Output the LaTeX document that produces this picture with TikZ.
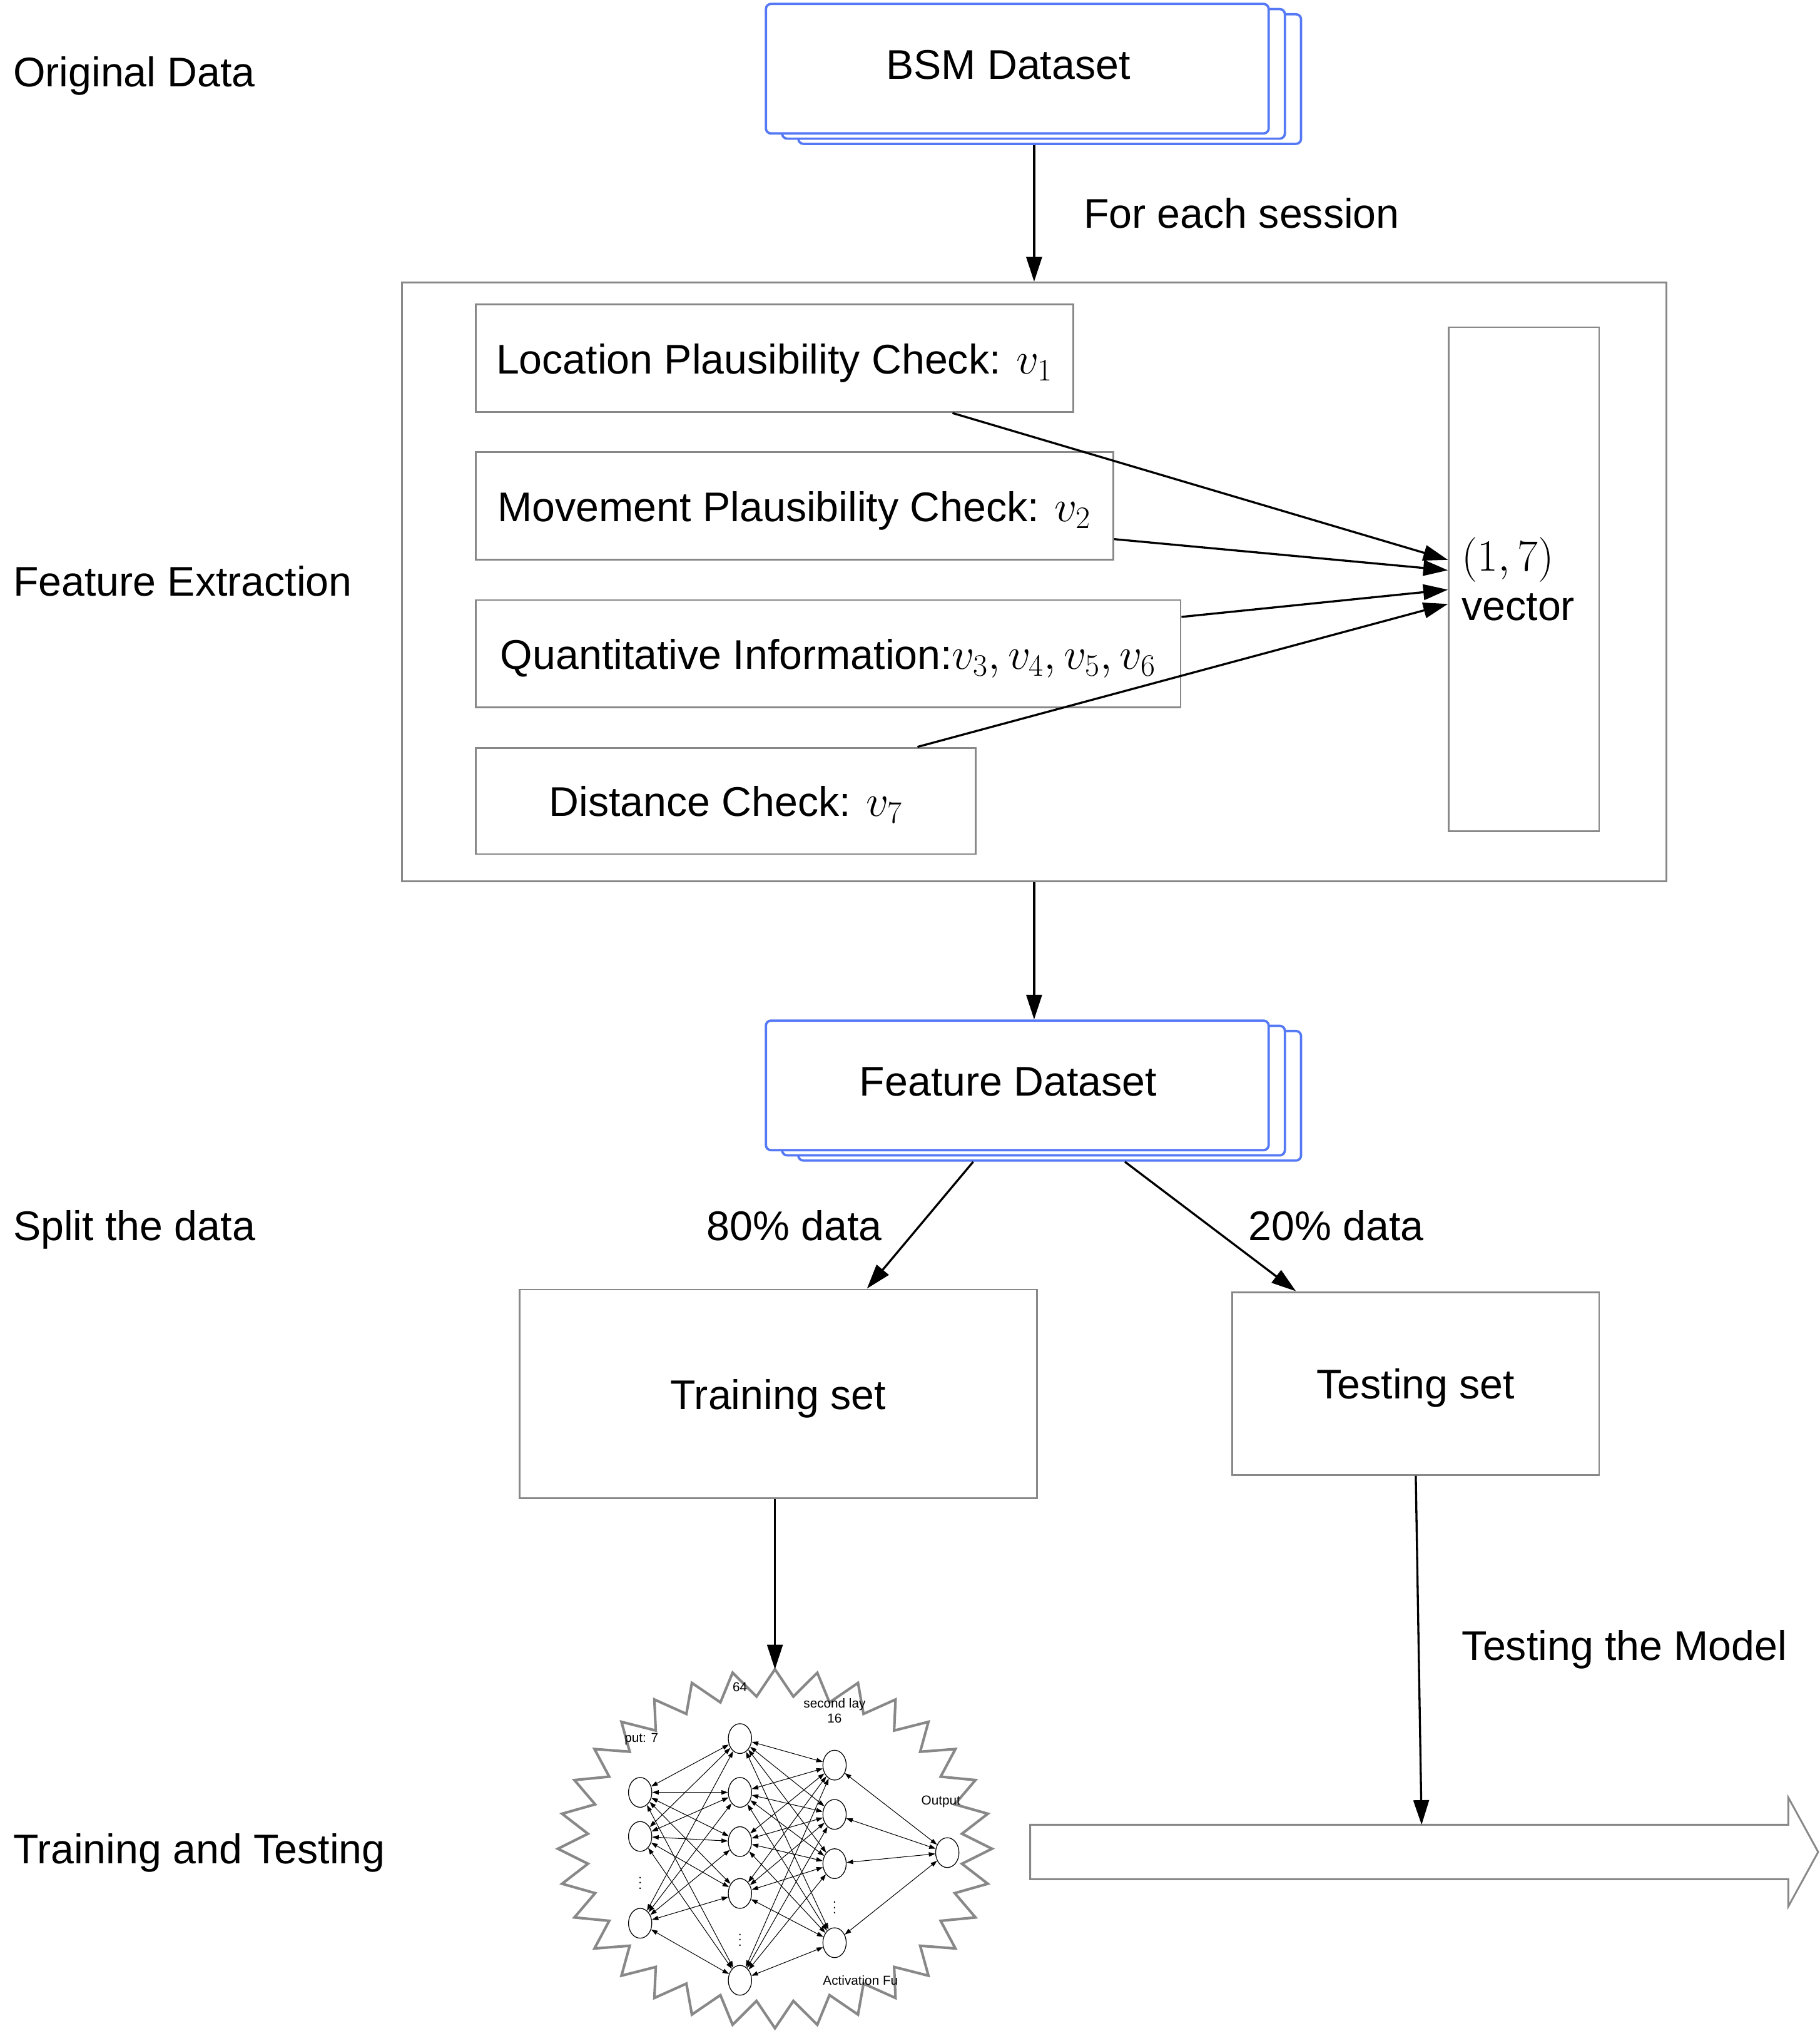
\documentclass[tikz,border=0pt]{standalone}
\usepackage{fix-cm}
\usepackage{fontspec}
\setmainfont{Liberation Sans}
\usepackage{tikz}
\usetikzlibrary{calc,shapes,arrows.meta,shadows}
\definecolor{dsblue}{RGB}{85,120,245}
\definecolor{boxgray}{RGB}{136,136,136}
\newcommand{\fm}[1]{{\fontsize{34.5}{38}\selectfont$#1$}}

\begin{document}
\begin{tikzpicture}[x=1pt, y=-1pt,
        txt/.style={font=\fontsize{32}{38}\selectfont, text height=31pt, text depth=7pt},
        side/.style={txt, anchor=west, inner sep=0pt},
        frame/.style={draw=boxgray, line width=1.4pt},
        box/.style={txt, frame},
        dataset/.style={txt, text height=23pt, draw=dsblue, line width=1.8pt, fill=white, rounded corners=4pt,
            minimum width=388pt, minimum height=100pt,
            double copy shadow={shadow xshift=12.5pt, shadow yshift=-4pt, draw=dsblue, fill=white}},
        arr/.style={-{Triangle[length=19pt,width=12pt]}, line width=1.6pt},
        neuron/.style={ellipse, draw, line width=0.6pt, minimum width=18pt, minimum height=23pt, inner sep=0pt},
        link/.style={{Triangle[length=5pt,width=3.4pt]}-{Triangle[length=5pt,width=3.4pt]}, line width=0.5pt},
        tiny/.style={font=\fontsize{10}{12}\selectfont, inner sep=0pt, align=center}]
    \useasboundingbox (0,0) rectangle (1404,1571);

    % row labels
    \node[side] (lorig) at (10,55) {Original Data};
    \node[side] (lfeat) at (10,448) {Feature Extraction};
    \node[side] (lsplit) at (10,945) {Split the data};
    \node[side] (ltrain) at (10,1426) {Training and Testing};

    % datasets
    \node[dataset] (bsm) at (785,53) {BSM Dataset\hspace*{14pt}};
    \node[dataset] (fds) at (785,837.5) {Feature Dataset\hspace*{14pt}};

    % feature extraction
    \node[frame, minimum width=976pt, minimum height=462pt] (fe) at (798,449) {};
    \node[box, minimum width=461pt, minimum height=83pt] (lpc) at (597.5,276.5) {Location Plausibility Check: \fm{v_1}};
    \node[box, minimum width=492pt, minimum height=83pt] (mpc) at (613,390.5) {Movement Plausibility Check: \fm{v_2}};
    \node[box, minimum width=544pt, minimum height=83pt] (qi) at (639,504.5) {Quantitative Information:\fm{v_3, v_4, v_5, v_6}};
    \node[box, minimum width=386pt, minimum height=82pt] (dc) at (560,618) {Distance Check: \fm{v_7}};
    \node[frame, font=\fontsize{32}{38}\selectfont, minimum width=116pt, minimum height=389pt,
        text width=96pt, inner xsep=10pt, align=left] (vec) at (1176,447) {\fm{(1,7)}\\vector};

    \draw[arr] ($(bsm.south -| fe.north)+(0,8)$) -- (fe.north);
    \node[side] (each) at (836,164) {For each session};
    \draw[arr] (lpc.south -| 735,0) -- (vec.west |- 0,432);
    \draw[arr] (mpc.east |- 0,416) -- (vec.west |- 0,440);
    \draw[arr] (qi.east |- 0,476) -- (vec.west |- 0,455);
    \draw[arr] (dc.north -| 708,0) -- (vec.west |- 0,466);
    \draw[arr] (fe.south) -- (fe.south |- fds.north);

    % split
    \node[box, minimum width=399pt, minimum height=161pt] (train) at (600.5,1075.5) {Training set};
    \node[box, minimum width=283pt, minimum height=141pt] (test) at (1092.5,1067.5) {Testing set};
    \draw[arr] ($(fds.south)+(-34,8)$) -- (train.north -| 669,0);
    \draw[arr] ($(fds.south)+(83,8)$) -- (test.north -| 1000,0);
    \node[txt] (p80) at (613,945) {80\% data};
    \node[txt] (p20) at (1031,945) {20\% data};

    % model
    \coordinate (startop) at (598,1288);
    \draw[boxgray, line width=2pt, line join=miter]
        plot[samples at={0,...,63}] ({598+ifthenelse(mod(\x,2)==0,167.5,145)*cos(90+\x*5.625)},
                                     {1426.5-ifthenelse(mod(\x,2)==0,138.5,118)*sin(90+\x*5.625)}) -- cycle;
    \draw[arr] (train.south -| startop) -- (startop);

    \foreach \y [count=\i] in {1383,1417,1484}
        \node[neuron] (in\i) at (494,\y) {};
    \foreach \y [count=\i] in {1341.5,1383,1421,1461,1528}
        \node[neuron] (hid\i) at (571,\y) {};
    \foreach \y [count=\i] in {1362,1400,1438,1499}
        \node[neuron] (sec\i) at (644,\y) {};
    \node[neuron] (out) at (731,1429.5) {};
    \foreach \i in {1,2,3}
        \foreach \j in {1,...,5}
            \draw[link] (in\i) -- (hid\j);
    \foreach \i in {1,...,5}
        \foreach \j in {1,...,4}
            \draw[link] (hid\i) -- (sec\j);
    \foreach \j in {1,...,4}
        \draw[link] (sec\j) -- (out);
    \node[tiny] (indots) at (494,1450) {$\vdots$};
    \node[tiny] (hiddots) at (571,1494) {$\vdots$};
    \node[tiny] (secdots) at (644,1469) {$\vdots$};
    \node[tiny] (lin) at (495,1342) {put: 7};
    \node[tiny] (lhid) at (571,1302) {64};
    \node[tiny] (lsec) at (644,1320) {second lay\\16};
    \node[tiny] (lout) at (726,1390) {Output};
    \node[tiny] (lact) at (664,1528) {Activation Fu};

    % testing
    \coordinate (bodytop) at (1097,1408);
    \draw[boxgray, line width=1.4pt] (795,1408) -- (1380,1408) -- (1380,1387) -- (1403,1429)
        -- (1380,1471) -- (1380,1450) -- (795,1450) -- cycle;
    \draw[arr] (test.south) -- (bodytop);
    \node[side] (ltest) at (1128,1269) {Testing the Model};
\end{tikzpicture}
\end{document}
